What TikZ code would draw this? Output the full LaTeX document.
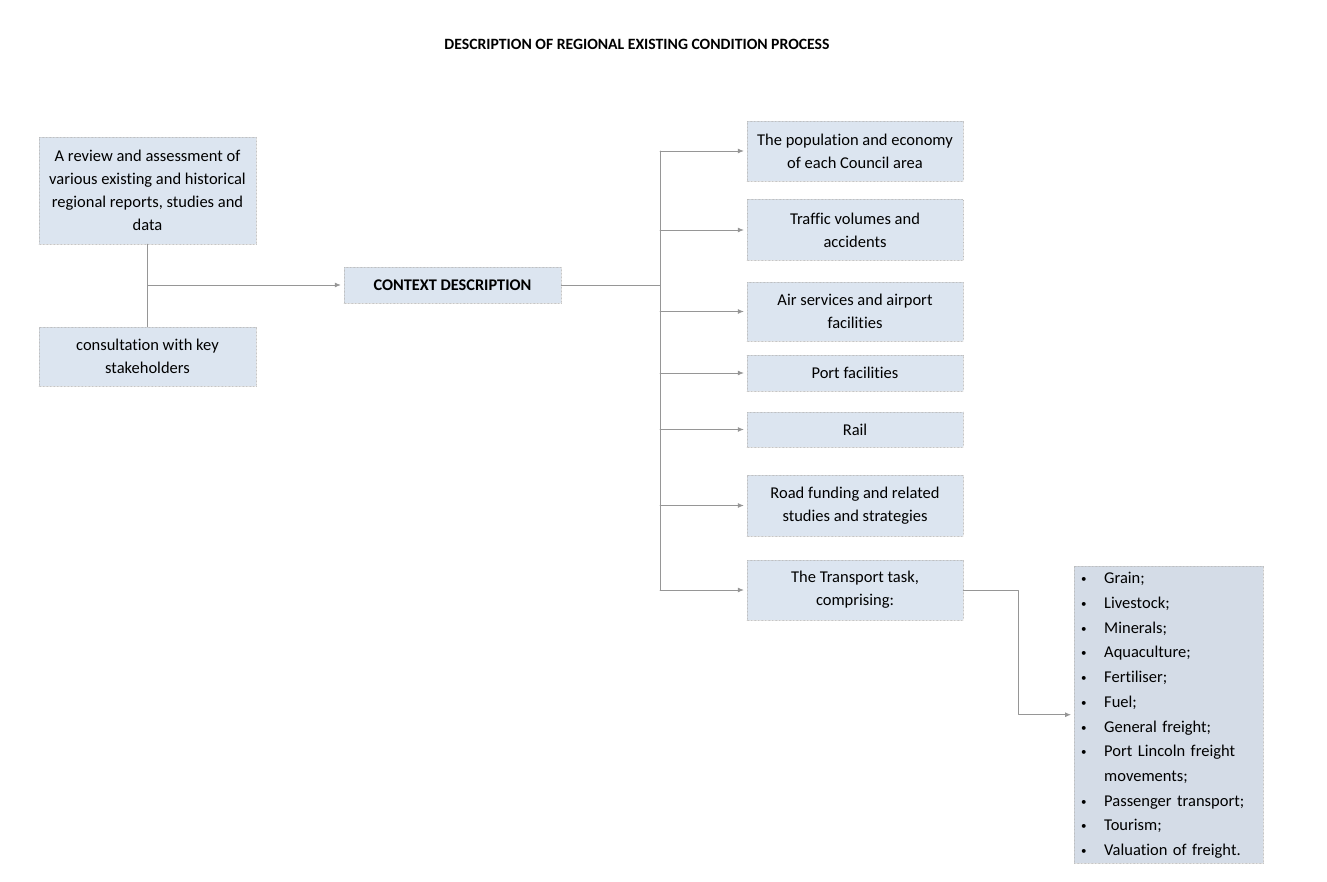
\documentclass[tikz,border=0pt]{standalone}
\usepackage{fontspec}
\setmainfont{Carlito}[Ligatures=NoCommon]
\usetikzlibrary{positioning,arrows.meta}
\definecolor{boxfill}{RGB}{220,229,240}
\definecolor{listfill}{RGB}{212,220,231}
\definecolor{linegray}{RGB}{150,150,150}
\newcommand{\bul}{\raisebox{1pt}{\fontsize{11}{11}\selectfont\textbullet}}

\begin{document}
\begin{tikzpicture}[x=1pt, y=-1pt, line cap=round, line join=round,
    box/.style={draw=gray!55, densely dotted, fill=boxfill, minimum width=217pt,
        align=center, inner sep=2pt, font=\fontsize{16.5}{23}\selectfont},
    listbox/.style={draw=gray!55, densely dotted, fill=listfill, minimum width=189pt,
        minimum height=297pt, text width=175pt, align=left, inner xsep=7pt,
        inner ysep=0pt, font=\fontsize{16.5}{23.1}\selectfont},
    link/.style={draw=linegray, solid, line width=0.8pt},
    arr/.style={link, -{Latex[length=6pt,width=5pt]}, shorten >=3pt}]

        \useasboundingbox (0,0) rectangle (1327,882);

        % title
        \node (title) at (637,44) {\fontsize{15.7}{18}\selectfont\bfseries DESCRIPTION OF REGIONAL EXISTING CONDITION PROCESS};

        % input boxes
        \node[box, minimum height=107pt] (review) at (147.5,190.5)
            {A review and assessment of\\various existing and historical\\regional reports, studies and\\data};
        \node[box, minimum height=59pt] (consult) at (147.5,356.5)
            {consultation with key\\stakeholders};

        % centre box
        \node[box, minimum height=36pt, font=\fontsize{16.3}{19}\selectfont\bfseries] (ctx) at (452.5,285)
            {CONTEXT DESCRIPTION};

        % topic boxes
        \node[box, minimum width=216pt, minimum height=60pt] (pop) at (855,151)
            {The population and economy\\of each Council area};
        \node[box, minimum width=216pt, minimum height=61pt] (traffic) at (855,230)
            {Traffic volumes and\\accidents};
        \node[box, minimum width=216pt, minimum height=59pt] (air) at (855,311.5)
            {Air services and airport\\facilities};
        \node[box, minimum width=216pt, minimum height=36pt] (port) at (855,373)
            {Port facilities};
        \node[box, minimum width=216pt, minimum height=35pt] (rail) at (855,429.5)
            {Rail};
        \node[box, minimum width=216pt, minimum height=61pt] (road) at (855,505.5)
            {Road funding and related\\studies and strategies};
        \node[box, minimum width=216pt, minimum height=60pt] (task) at (855,590)
            {The Transport task,\\comprising:};

        % freight list
        \node[listbox, anchor=north west] (list) at (1074,566) {%
            \def\arraystretch{1.07}%
            \begin{tabular}{@{}p{23pt}@{}l@{}}
            \bul & Grain;\\
            \bul & Livestock;\\
            \bul & Minerals;\\
            \bul & Aquaculture;\\
            \bul & Fertiliser;\\
            \bul & Fuel;\\
            \bul & General freight;\\
            \bul & Port Lincoln freight\\
                 & movements;\\
            \bul & Passenger transport;\\
            \bul & Tourism;\\
            \bul & Valuation of freight.
            \end{tabular}};

        % connectors
        \coordinate (trunk) at (660,285);
        \draw[link] (review.south) -- (consult.north);
        \draw[arr] (review.south |- ctx.west) -- (ctx.west);
        \draw[link] (ctx.east) -- (trunk);
        \draw[link] (trunk |- pop.west) -- (trunk |- task.west);
        \foreach \t in {pop,traffic,air,port,rail,road,task}
            \draw[arr] (trunk |- \t.west) -- (\t.west);
        \draw[arr] (task.east) -- ++(55,0) |- (list.west);
\end{tikzpicture}
\end{document}
